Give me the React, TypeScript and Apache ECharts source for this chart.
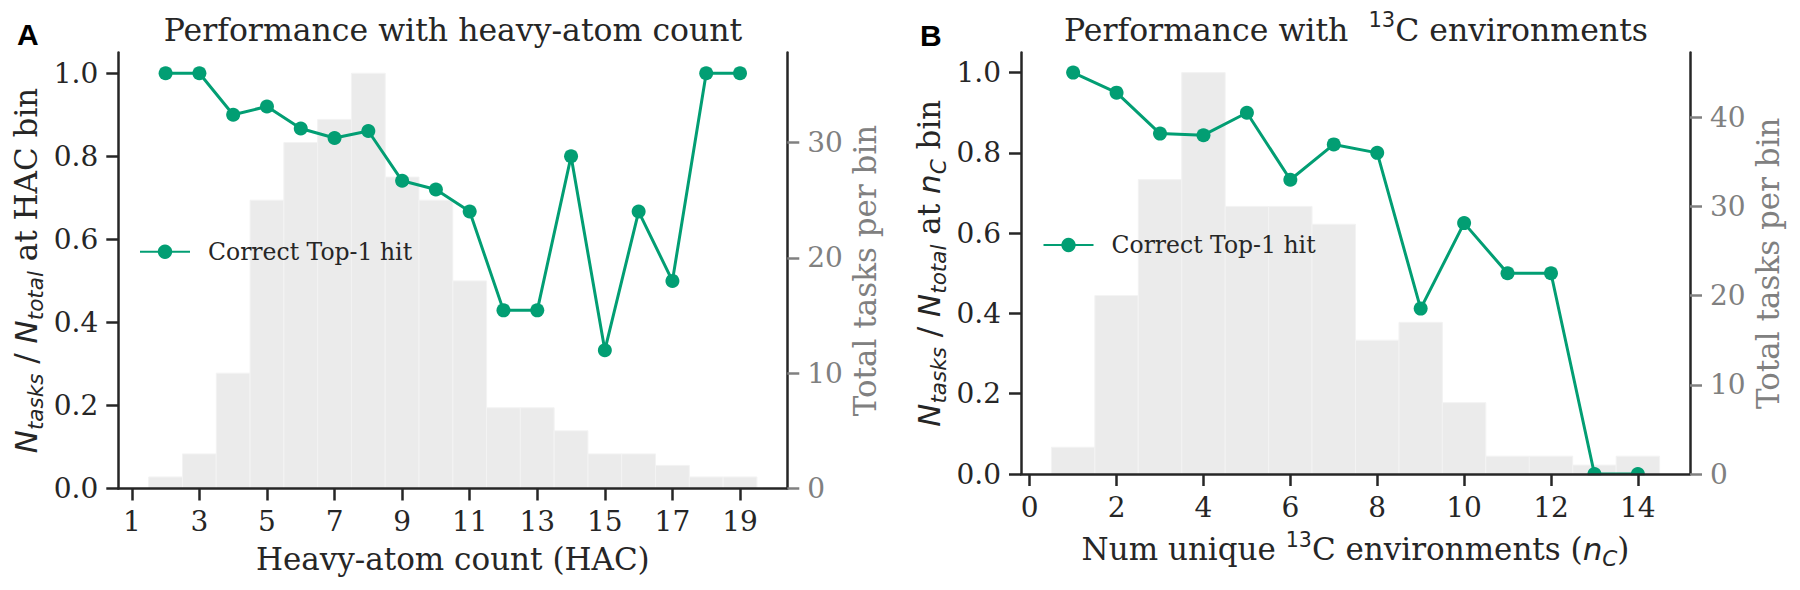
import React, { useEffect, useRef } from "react";
import * as echarts from "echarts";

// Panel A: heavy-atom count bins
const hacBins = [2, 3, 4, 5, 6, 7, 8, 9, 10, 11, 12, 13, 14, 15, 16, 17, 18, 19];
const hacTaskCounts = [1, 3, 10, 25, 30, 32, 36, 27, 25, 18, 7, 7, 5, 3, 3, 2, 1, 1];
const hacTop1Rate = [1.0, 1.0, 0.9, 0.92, 0.867, 0.844, 0.861, 0.741, 0.72, 0.667, 0.429, 0.429, 0.8, 0.333, 0.667, 0.5, 1.0, 1.0];

// Panel B: number of unique 13C environments
const ncBins = [1, 2, 3, 4, 5, 6, 7, 8, 9, 10, 11, 12, 13, 14];
const ncTaskCounts = [3, 20, 33, 45, 30, 30, 28, 15, 17, 8, 2, 2, 1, 2];
const ncTop1Rate = [1.0, 0.95, 0.848, 0.844, 0.9, 0.733, 0.821, 0.8, 0.412, 0.625, 0.5, 0.5, 0.0, 0.0];

// Tick labels
const hacTicks = [1, 3, 5, 7, 9, 11, 13, 15, 17, 19];
const ncTicks = [0, 2, 4, 6, 8, 10, 12, 14];
const rateTicks = [0, 0.2, 0.4, 0.6, 0.8, 1.0];
const hacCountTicks = [0, 10, 20, 30];
const ncCountTicks = [0, 10, 20, 30, 40];

const SERIES_NAME = "Correct Top-1 hit";

const INK = "#262626";
const GREY = "#808080";
const GREEN = "#029e73";
const BAR = "#ebebeb";
const SERIF = "'DejaVu Serif', serif";
const SANS = "'DejaVu Sans', sans-serif";

const LABEL_SIZE = 31;
const TICK_SIZE = 28;
const TITLE_SIZE = 31.5;

const mathRich: any = {
  t: { fontFamily: SERIF, fontSize: LABEL_SIZE, lineHeight: 40, color: INK },
  i: { fontFamily: SANS, fontStyle: "italic", fontSize: LABEL_SIZE, lineHeight: 40, color: INK },
  s: { fontFamily: SANS, fontStyle: "italic", fontSize: 21.5, lineHeight: 22, verticalAlign: "bottom", color: INK },
  p: { fontFamily: SANS, fontSize: 20.5, lineHeight: 20, verticalAlign: "top", color: INK },
};

const titleRich: any = {
  t: { fontFamily: SERIF, fontSize: TITLE_SIZE, lineHeight: 40, color: INK },
  q: { fontFamily: SANS, fontSize: 21, lineHeight: 14, verticalAlign: "top", color: INK },
};

const spine = { show: true, onZero: false, lineStyle: { color: INK, width: 2.5 } };

function xAxisFor(gridIndex: number, min: number, max: number, ticks: number[], name: string, nameGap: number) {
  return {
    type: "value",
    gridIndex,
    min,
    max,
    z: 10,
    axisLine: spine,
    axisTick: { show: true, length: 12, lineStyle: { color: INK, width: 2.5 }, customValues: ticks },
    axisLabel: {
      show: true,
      customValues: ticks,
      margin: 19,
      color: INK,
      fontFamily: SERIF,
      fontSize: TICK_SIZE,
      formatter: (v: number) => String(v),
    },
    splitLine: { show: false },
    name,
    nameLocation: "middle",
    nameGap,
    nameMoveOverlap: false,
    nameTextStyle: { fontFamily: SERIF, fontSize: LABEL_SIZE, lineHeight: 40, color: INK, rich: mathRich },
  };
}

function rateAxisFor(gridIndex: number, name: string) {
  return {
    type: "value",
    gridIndex,
    position: "left",
    min: 0,
    max: 1.05,
    z: 10,
    axisLine: spine,
    axisTick: { show: true, length: 12, lineStyle: { color: INK, width: 2.5 }, customValues: rateTicks },
    axisLabel: {
      show: true,
      customValues: rateTicks,
      margin: 20,
      color: INK,
      fontFamily: SERIF,
      fontSize: TICK_SIZE,
      formatter: (v: number) => v.toFixed(1),
    },
    splitLine: { show: false },
    name,
    nameLocation: "middle",
    nameRotate: 90,
    nameGap: 72,
    nameMoveOverlap: false,
    nameTextStyle: { fontFamily: SERIF, fontSize: LABEL_SIZE, lineHeight: 40, color: INK, rich: mathRich },
  };
}

function countAxisFor(gridIndex: number, max: number, ticks: number[]) {
  return {
    type: "value",
    gridIndex,
    position: "right",
    min: 0,
    max,
    z: 10,
    axisLine: spine,
    axisTick: { show: true, length: 12, lineStyle: { color: GREY, width: 2.5 }, customValues: ticks },
    axisLabel: {
      show: true,
      customValues: ticks,
      margin: 20,
      color: GREY,
      fontFamily: SERIF,
      fontSize: TICK_SIZE,
      formatter: (v: number) => String(Math.round(v)),
    },
    splitLine: { show: false },
    name: "Total tasks per bin",
    nameLocation: "middle",
    nameRotate: 90,
    nameGap: 58,
    nameMoveOverlap: false,
    nameTextStyle: { fontFamily: SERIF, fontSize: LABEL_SIZE, lineHeight: 40, color: GREY },
  };
}

function histogram(xAxisIndex: number, yAxisIndex: number, bins: number[], counts: number[]) {
  return {
    type: "custom",
    xAxisIndex,
    yAxisIndex,
    silent: true,
    z: 1,
    encode: { x: 0, y: 1 },
    data: bins.map((b, i) => [b, counts[i]]),
    renderItem: (_params: any, api: any) => {
      const x = api.value(0);
      const c = api.value(1);
      const topLeft = api.coord([x - 0.5, c]);
      const bottomRight = api.coord([x + 0.5, 0]);
      return {
        type: "rect",
        shape: {
          x: topLeft[0],
          y: topLeft[1],
          width: bottomRight[0] - topLeft[0],
          height: bottomRight[1] - topLeft[1],
        },
        style: { fill: BAR, stroke: "#f3f3f3", lineWidth: 1 },
      };
    },
  };
}

function hitLine(xAxisIndex: number, yAxisIndex: number, bins: number[], rates: number[]) {
  return {
    type: "line",
    name: SERIES_NAME,
    xAxisIndex,
    yAxisIndex,
    z: 3,
    data: bins.map((b, i) => [b, rates[i]]),
    symbol: "circle",
    symbolSize: 14,
    showSymbol: true,
    itemStyle: { color: GREEN },
    lineStyle: { color: GREEN, width: 3 },
    emphasis: { disabled: true },
    silent: true,
  };
}

function legendAt(left: number, top: number) {
  return {
    data: [SERIES_NAME],
    left,
    top,
    padding: 0,
    orient: "vertical",
    itemWidth: 50,
    itemHeight: 18,
    selectedMode: false,
    textStyle: { fontFamily: SERIF, fontSize: 23.5, lineHeight: 24, color: INK, padding: [0, 0, 0, 13] },
  };
}

const panelLetter = (text: string, x: number, y: number) => ({
  type: "text",
  x,
  y,
  style: {
    text,
    fill: "#000000",
    fontFamily: "'Liberation Sans', Arial, sans-serif",
    fontWeight: "bold",
    fontSize: 30,
    align: "left",
    verticalAlign: "middle",
    textAlign: "left",
    textVerticalAlign: "middle",
  },
});

export default function App() {
  const ref = useRef<HTMLDivElement>(null);

  useEffect(() => {
    if (!ref.current) return;
    const chart = echarts.init(ref.current, null, { renderer: "svg" });

    const option: any = {
      animation: false,
      backgroundColor: "#ffffff",
      grid: [
        { left: 118.3, right: 1800 - 787.3, top: 52.5, bottom: 590 - 488.5, containLabel: false, outerBoundsMode: "none" },
        { left: 1021, right: 1800 - 1690, top: 52.5, bottom: 590 - 474, containLabel: false, outerBoundsMode: "none" },
      ],
      xAxis: [
        xAxisFor(0, 0.6, 20.4, hacTicks, "Heavy-atom count (HAC)", 50),
        xAxisFor(1, -0.2, 15.2, ncTicks, "{t|Num unique }{p|13}{t|C environments (}{i|n}{s|C}{t|)}", 55),
      ],
      yAxis: [
        rateAxisFor(0, "{i|N}{s|tasks}{t| / }{i|N}{s|total}{t| at HAC bin}"),
        countAxisFor(0, 37.8, hacCountTicks),
        rateAxisFor(1, "{i|N}{s|tasks}{t| / }{i|N}{s|total}{t| at }{i|n}{s|C}{t| bin}"),
        countAxisFor(1, 47.25, ncCountTicks),
      ],
      legend: [legendAt(139, 239.7), legendAt(1042.5, 233)],
      series: [
        histogram(0, 1, hacBins, hacTaskCounts),
        hitLine(0, 0, hacBins, hacTop1Rate),
        histogram(1, 3, ncBins, ncTaskCounts),
        hitLine(1, 2, ncBins, ncTop1Rate),
      ],
      graphic: [
        panelLetter("A", 17, 34),
        panelLetter("B", 920, 35),
        {
          type: "text",
          x: 453,
          y: 29.5,
          style: {
            text: "Performance with heavy-atom count",
            fill: INK,
            fontFamily: SERIF,
            fontSize: TITLE_SIZE,
            align: "center",
            verticalAlign: "middle",
            textAlign: "center",
            textVerticalAlign: "middle",
          },
        },
        {
          type: "text",
          x: 1356,
          y: 29.5,
          style: {
            text: "{t|Performance with  }{q|13}{t|C environments}",
            rich: titleRich,
            fill: INK,
            fontFamily: SERIF,
            fontSize: TITLE_SIZE,
            align: "center",
            verticalAlign: "middle",
            textAlign: "center",
            textVerticalAlign: "middle",
          },
        },
        // white band under panel B's bottom spine: the plot area clips markers sitting on zero
        {
          type: "rect",
          z: 5,
          silent: true,
          shape: { x: 1022.5, y: 475.3, width: 666, height: 8 },
          style: { fill: "#ffffff" },
        },
      ],
    };

    chart.setOption(option);
    return () => chart.dispose();
  }, []);

  return (
    <div
      ref={ref}
      style={{ position: "fixed", left: 0, top: 0, width: 1800, height: 590, background: "#ffffff" }}
    />
  );
}
